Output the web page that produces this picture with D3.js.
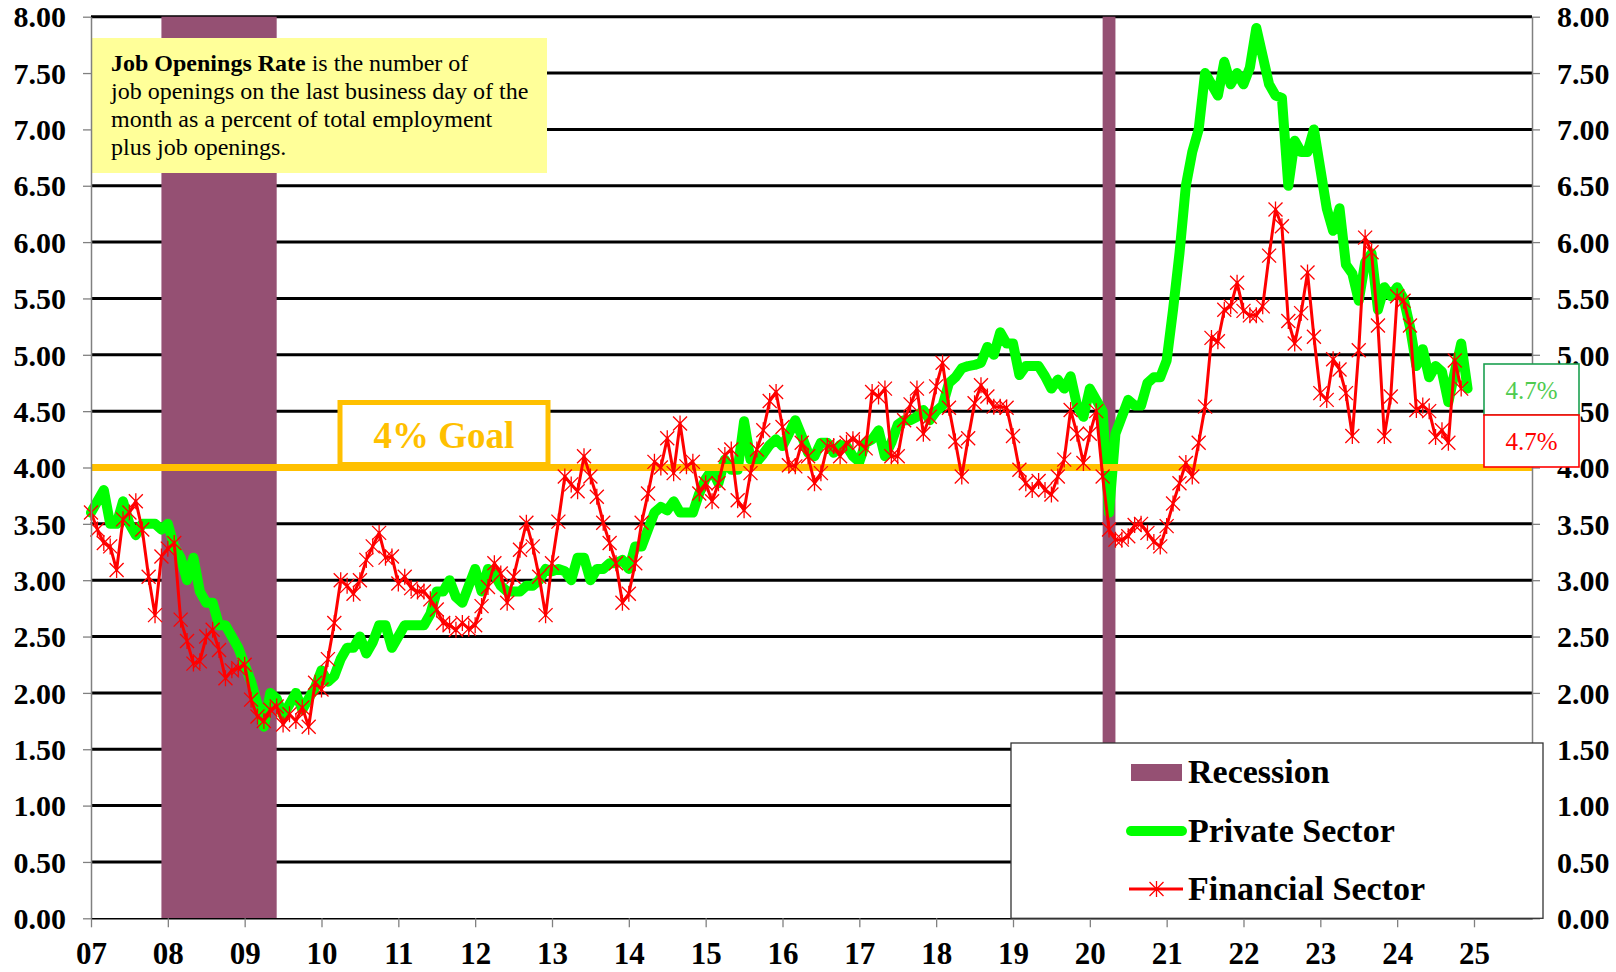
<!DOCTYPE html>
<html>
<head>
<meta charset="utf-8">
<script src="https://cdn.jsdelivr.net/npm/d3@7"></script>
<style>
  html, body { margin: 0; padding: 0; background: #fff; }
  svg { display: block; font-family: "Liberation Serif", "Times New Roman", serif; }
</style>
</head>
<body>
<svg id="chart" width="1616" height="972"></svg>
<script>
// Monthly job openings rates (%), first value is January 2007
const firstMonth = "2007-01";

const privateSector = [
  3.6, 3.7, 3.8, 3.5, 3.5, 3.7, 3.5, 3.4, 3.5, 3.5, 3.5, 3.45,
  3.5, 3.3, 3.2, 3.0, 3.2, 2.9, 2.8, 2.8, 2.6, 2.6, 2.5, 2.4,
  2.25, 2.1, 1.9, 1.7, 2.0, 1.95, 1.8, 1.9, 2.0, 1.85, 1.95, 2.05,
  2.2, 2.1, 2.15, 2.3, 2.4, 2.4, 2.5, 2.35, 2.45, 2.6, 2.6, 2.4,
  2.5, 2.6, 2.6, 2.6, 2.6, 2.7, 2.9, 2.9, 3.0, 2.85, 2.8, 2.95,
  3.1, 2.9, 3.1, 3.05, 2.95, 2.9, 2.9, 2.9, 2.95, 2.95, 3.0, 3.1,
  3.08, 3.1, 3.08, 3.0, 3.2, 3.2, 3.0, 3.1, 3.1, 3.15, 3.15, 3.18,
  3.1, 3.3, 3.3, 3.45, 3.6, 3.65, 3.62, 3.7, 3.6, 3.6, 3.6, 3.77,
  3.9, 3.98, 3.86, 4.07, 3.98, 3.98, 4.41, 4.07, 4.05, 4.12, 4.2, 4.25,
  4.19, 4.3, 4.42, 4.28, 4.13, 4.1, 4.22, 4.22, 4.13, 4.2, 4.19, 4.1,
  4.05, 4.22, 4.25, 4.33, 4.1, 4.22, 4.38, 4.42, 4.42, 4.45, 4.51, 4.42,
  4.5, 4.55, 4.75, 4.8, 4.88, 4.9, 4.91, 4.93, 5.07, 5.0, 5.2, 5.1,
  5.1, 4.82, 4.9, 4.9, 4.9, 4.81, 4.7, 4.78, 4.7, 4.81, 4.55, 4.45,
  4.7, 4.6, 4.5, 3.6, 4.3, 4.45, 4.6, 4.55, 4.55, 4.75, 4.8, 4.8,
  4.95, 5.4, 5.9, 6.5, 6.8, 7.0, 7.5, 7.4, 7.3, 7.6, 7.4, 7.5,
  7.4, 7.55, 7.9, 7.65, 7.4, 7.3, 7.28, 6.5, 6.9, 6.8, 6.8, 7.0,
  6.65, 6.3, 6.1, 6.3, 5.8, 5.72, 5.48, 5.82, 5.9, 5.4, 5.6, 5.52,
  5.6, 5.5, 5.25, 4.9, 5.05, 4.8, 4.9, 4.85, 4.58, 4.85, 5.1, 4.7
];

const financialSector = [
  3.6, 3.45, 3.33, 3.3, 3.09, 3.54, 3.6, 3.7, 3.45, 3.03, 2.69, 3.21,
  3.28, 3.33, 2.65, 2.46, 2.26, 2.28, 2.5, 2.56, 2.38, 2.13, 2.2, 2.22,
  2.25, 1.94, 1.79, 1.75, 1.85, 1.88, 1.72, 1.81, 1.75, 1.87, 1.7, 2.09,
  2.03, 2.3, 2.62, 3.0, 2.95, 2.88, 3.0, 3.18, 3.3, 3.42, 3.2, 3.21,
  2.97, 3.03, 2.93, 2.9, 2.9, 2.83, 2.74, 2.62, 2.6, 2.56, 2.62, 2.57,
  2.6, 2.77, 2.94, 3.15, 3.06, 2.8, 3.03, 3.27, 3.51, 3.3, 3.03, 2.69,
  3.15, 3.52, 3.92, 3.85, 3.79, 4.1, 3.92, 3.74, 3.51, 3.33, 3.15, 2.8,
  2.88, 3.15, 3.51, 3.77, 4.05, 4.0, 4.26, 3.95, 4.39, 4.01, 4.05, 3.77,
  3.86, 3.7, 3.86, 4.11, 4.16, 3.71, 3.62, 3.95, 4.16, 4.33, 4.59, 4.67,
  4.36, 4.02, 4.01, 4.22, 4.1, 3.86, 3.95, 4.19, 4.19, 4.1, 4.22, 4.25,
  4.22, 4.17, 4.67, 4.63, 4.7, 4.1, 4.1, 4.42, 4.56, 4.7, 4.3, 4.45,
  4.72, 4.93, 4.53, 4.23, 3.92, 4.26, 4.57, 4.73, 4.63, 4.54, 4.54, 4.53,
  4.28, 3.98, 3.86, 3.8, 3.88, 3.8, 3.76, 3.92, 4.07, 4.51, 4.3, 4.04,
  4.3, 4.5, 3.92, 3.45, 3.36, 3.36, 3.39, 3.49, 3.5, 3.42, 3.34, 3.3,
  3.48, 3.68, 3.86, 4.04, 3.92, 4.22, 4.54, 5.15, 5.12, 5.4, 5.43, 5.64,
  5.39, 5.35, 5.35, 5.43, 5.88, 6.29, 6.14, 5.3, 5.1, 5.37, 5.73, 5.16,
  4.66, 4.6, 4.96, 4.87, 4.66, 4.28, 5.04, 6.04, 5.91, 5.26, 4.28, 4.63,
  5.52, 5.48, 5.26, 4.51, 4.55, 4.5, 4.27, 4.33, 4.22, 4.95, 4.7
];

// Recession periods: first month in, first month out
const recessions = [["2007-12", "2009-06"], ["2020-03", "2020-05"]];

const goalRate = 4;
const yTicks = d3.range(0, 8.01, 0.5);
const xTickYears = d3.range(2007, 2026);

const noteLines = [
  [{ t: "Job Openings Rate", b: true }, { t: " is the number of", b: false }],
  [{ t: "job openings on the last business day of the", b: false }],
  [{ t: "month as a percent of total employment", b: false }],
  [{ t: "plus job openings.", b: false }]
];

const colors = {
  recession: "#955073",
  privateSector: "#00FF00",
  financialSector: "#FF0000",
  goal: "#FFC000",
  note: "#FFFF99",
  privateLabelText: "#4FCB4F",
  privateLabelBorder: "#1CA050"
};

// ---- layout ----
const plot = { left: 91, right: 1532, top: 16.7, bottom: 918.3 };
const svg = d3.select("#chart");

const monthToYear = s => { const [yy, mm] = s.split("-").map(Number); return yy + (mm - 1) / 12; };
const t0 = monthToYear(firstMonth);
const x = d3.scaleLinear().domain([2007, 2025.755]).range([plot.left, plot.right]);
const y = d3.scaleLinear().domain([0, 8]).range([plot.bottom, plot.top]);
const xi = i => x(t0 + i / 12);

svg.append("rect").attr("width", 1616).attr("height", 972).attr("fill", "#fff");

// horizontal gridlines
svg.append("g").selectAll("line")
  .data(yTicks.filter(v => v > 0))
  .join("line")
  .attr("x1", plot.left).attr("x2", plot.right)
  .attr("y1", d => y(d)).attr("y2", d => y(d))
  .attr("stroke", "#000").attr("stroke-width", 3);

// recession shading
svg.append("g").selectAll("rect")
  .data(recessions)
  .join("rect")
  .attr("x", d => x(monthToYear(d[0])))
  .attr("width", d => x(monthToYear(d[1])) - x(monthToYear(d[0])))
  .attr("y", y(8)).attr("height", y(0) - y(8))
  .attr("fill", colors.recession);

// definition note
const note = svg.append("g");
note.append("rect").attr("x", 92).attr("y", 38).attr("width", 455).attr("height", 135).attr("fill", colors.note);
noteLines.forEach((line, k) => {
  const txt = note.append("text").attr("x", 111).attr("y", 70.5 + k * 28.3)
    .attr("font-size", 24).attr("fill", "#000");
  line.forEach(seg => txt.append("tspan").attr("font-weight", seg.b ? "bold" : "normal").text(seg.t));
});

// private sector line
const line = d3.line().x((d, i) => xi(i)).y(d => y(d));
svg.append("path").datum(privateSector)
  .attr("d", line).attr("fill", "none")
  .attr("stroke", colors.privateSector).attr("stroke-width", 10)
  .attr("stroke-linejoin", "round").attr("stroke-linecap", "round");

// 4% goal line and callout
svg.append("line")
  .attr("x1", plot.left).attr("x2", plot.right)
  .attr("y1", y(goalRate)).attr("y2", y(goalRate))
  .attr("stroke", colors.goal).attr("stroke-width", 7);
svg.append("rect").attr("x", 340).attr("y", 402.5).attr("width", 208).attr("height", 62)
  .attr("fill", "#fff").attr("stroke", colors.goal).attr("stroke-width", 5);
svg.append("text").attr("x", 444).attr("y", 448).attr("text-anchor", "middle")
  .attr("font-size", 37).attr("font-weight", "bold").attr("fill", colors.goal)
  .text(`${goalRate}% Goal`);

// financial sector line with star markers
const star = "M-7,-7L7,7M-7,7L7,-7M0,-8L0,8";
svg.append("path").datum(financialSector)
  .attr("d", line).attr("fill", "none")
  .attr("stroke", colors.financialSector).attr("stroke-width", 3)
  .attr("stroke-linejoin", "round");
svg.append("g").selectAll("path")
  .data(financialSector)
  .join("path")
  .attr("transform", (d, i) => `translate(${xi(i)},${y(d)})`)
  .attr("d", star).attr("fill", "none")
  .attr("stroke", colors.financialSector).attr("stroke-width", 1.3);

// axes
const fmt = d3.format(".2f");
function styleAxis(g, size) {
  g.select(".domain").attr("stroke", "#808080").attr("stroke-width", 1.5);
  g.selectAll(".tick line").attr("stroke", "#808080").attr("stroke-width", 1.3);
  g.selectAll(".tick text").attr("fill", "#000").attr("font-weight", "bold")
    .attr("font-size", size).attr("font-family", '"Liberation Serif", "Times New Roman", serif');
}
svg.append("g").attr("transform", `translate(${plot.left},0)`)
  .call(d3.axisLeft(y).tickValues(yTicks).tickFormat(fmt).tickSize(8).tickSizeOuter(0).tickPadding(17))
  .call(g => styleAxis(g, 30))
  .call(g => g.selectAll(".tick text").attr("dy", "0.34em"));
svg.append("g").attr("transform", `translate(${plot.right},0)`)
  .call(d3.axisRight(y).tickValues(yTicks).tickFormat(fmt).tickSize(8).tickSizeOuter(0).tickPadding(17))
  .call(g => styleAxis(g, 30))
  .call(g => g.selectAll(".tick text").attr("dy", "0.34em"));
svg.append("g").attr("transform", `translate(0,${plot.bottom})`)
  .call(d3.axisBottom(x).tickValues(xTickYears).tickFormat(d => String(d % 100).padStart(2, "0"))
    .tickSize(9).tickSizeOuter(0))
  .call(g => styleAxis(g, 31))
  .call(g => g.select(".domain").attr("stroke", "#000").attr("stroke-width", 1.5))
  .call(g => g.selectAll(".tick text").attr("y", 46).attr("dy", 0));

// legend
const legend = svg.append("g");
legend.append("rect").attr("x", 1011).attr("y", 743).attr("width", 532).attr("height", plot.bottom - 743)
  .attr("fill", "#fff").attr("stroke", "#333").attr("stroke-width", 1.3);
const lx0 = 1131, lx1 = 1182, ltx = 1188;
legend.append("rect").attr("x", lx0).attr("y", 764).attr("width", lx1 - lx0).attr("height", 17).attr("fill", colors.recession);
legend.append("line").attr("x1", lx0).attr("x2", lx1).attr("y1", 831).attr("y2", 831)
  .attr("stroke", colors.privateSector).attr("stroke-width", 10).attr("stroke-linecap", "round");
legend.append("line").attr("x1", lx0 - 2).attr("x2", lx1 + 1).attr("y1", 889).attr("y2", 889)
  .attr("stroke", colors.financialSector).attr("stroke-width", 3);
legend.append("path").attr("transform", `translate(${(lx0 + lx1) / 2},889)`).attr("d", star)
  .attr("fill", "none").attr("stroke", colors.financialSector).attr("stroke-width", 1.3);
[["Recession", 783], ["Private Sector", 842], ["Financial Sector", 900]].forEach(([t, by]) => {
  legend.append("text").attr("x", ltx).attr("y", by).attr("font-size", 34).attr("font-weight", "bold")
    .attr("fill", "#000").text(t);
});

// latest-value labels
const pct = v => d3.format(".1f")(v) + "%";
const latest = [
  { v: privateSector[privateSector.length - 1], top: 364, h: 51, text: colors.privateLabelText, border: colors.privateLabelBorder },
  { v: financialSector[financialSector.length - 1], top: 415, h: 52, text: colors.financialSector, border: colors.financialSector }
];
latest.forEach(L => {
  svg.append("rect").attr("x", 1484).attr("y", L.top).attr("width", 95).attr("height", L.h)
    .attr("fill", "#fff").attr("stroke", L.border).attr("stroke-width", 1.6);
  svg.append("text").attr("x", 1531.5).attr("y", L.top + 35).attr("text-anchor", "middle")
    .attr("font-size", 25).attr("fill", L.text).text(pct(L.v));
});
</script>
</body>
</html>
